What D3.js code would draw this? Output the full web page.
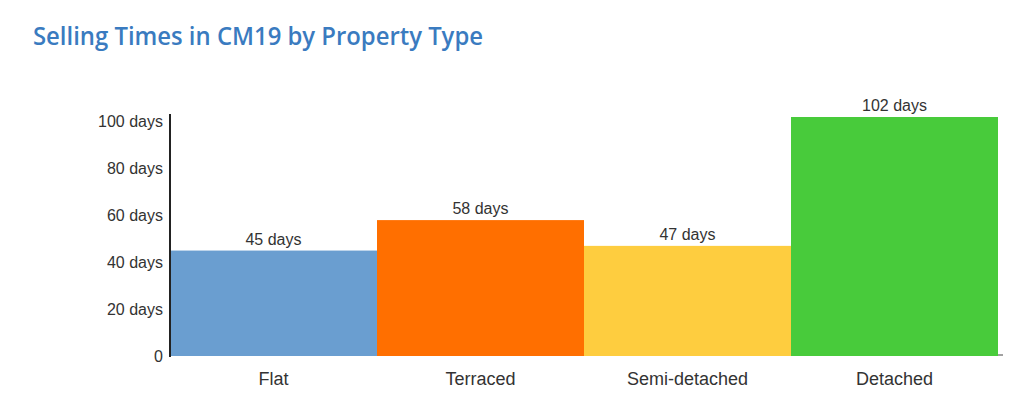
<!DOCTYPE html>
<html>
<head>
<meta charset="utf-8">
<script src="https://cdn.jsdelivr.net/npm/d3@7"></script>
<style>
  body { margin: 0; background: #fff; }
  svg { display: block; }
</style>
</head>
<body>
<div id="chart"></div>
<script>
// data
var categories = ['Flat', 'Terraced', 'Semi-detached', 'Detached'];
var sellingDays = [45, 58, 47, 102];
var barColors = ['#6a9ed0', '#ff6f00', '#fecd3f', '#48cb3b'];
var tickValues = [0, 20, 40, 60, 80, 100];

var width = 1024, height = 410;
var margin = { left: 170, right: 26, top: 117, bottom: 54 };

var svg = d3.select('#chart').append('svg')
    .attr('width', width)
    .attr('height', height);

// title
svg.append('text')
  .attr('x', 33)
  .attr('y', 45)
  .attr('fill', '#3a7bc0')
  .style('font-family', 'Open Sans, sans-serif')
  .style('font-size', '26px')
  .style('font-weight', 600)
  .attr('textLength', 450)
  .attr('lengthAdjust', 'spacingAndGlyphs')
  .text('Selling Times in CM19 by Property Type');

var x = d3.scaleBand()
    .domain(categories)
    .range([margin.left, width - margin.right])
    .padding(0);

var y = d3.scaleLinear()
    .domain([0, d3.max(sellingDays)])
    .range([height - margin.bottom, margin.top]);

var data = categories.map(function(c, i){ return { cat: c, val: sellingDays[i], color: barColors[i] }; });

// bars
svg.selectAll('rect.bar')
  .data(data)
  .enter().append('rect')
  .attr('class', 'bar')
  .attr('x', function(d){ return x(d.cat); })
  .attr('y', function(d){ return y(d.val); })
  .attr('width', x.bandwidth())
  .attr('height', function(d){ return y(0) - y(d.val); })
  .attr('fill', function(d){ return d.color; });

// value labels
svg.selectAll('text.val')
  .data(data)
  .enter().append('text')
  .attr('class', 'val')
  .attr('x', function(d){ return x(d.cat) + x.bandwidth() / 2; })
  .attr('y', function(d){ return y(d.val) - 6; })
  .attr('text-anchor', 'middle')
  .attr('fill', '#333')
  .style('font-family', 'Liberation Sans, Arial, sans-serif')
  .style('font-size', '16px')
  .text(function(d){ return d.val + ' days'; });

// y axis
var yAxis = d3.axisLeft(y)
    .tickValues(tickValues)
    .tickSize(0)
    .tickPadding(7)
    .tickFormat(function(d){ return d === 0 ? '0' : d + ' days'; });

var gy = svg.append('g')
  .attr('transform', 'translate(' + margin.left + ',0)')
  .call(yAxis);
gy.select('.domain').remove();
gy.selectAll('text')
  .attr('fill', '#333')
  .style('font-family', 'Liberation Sans, Arial, sans-serif')
  .style('font-size', '16px');

svg.append('line')
  .attr('x1', margin.left).attr('x2', margin.left)
  .attr('y1', margin.top - 3).attr('y2', y(0) + 1)
  .attr('stroke', '#222')
  .attr('stroke-width', 2);

// x axis
var xAxis = d3.axisBottom(x).tickSize(0).tickPadding(16);
var gx = svg.append('g')
  .attr('transform', 'translate(0,' + y(0) + ')')
  .call(xAxis);
gx.select('.domain').remove();
gx.selectAll('text')
  .attr('fill', '#333')
  .style('font-family', 'Liberation Sans, Arial, sans-serif')
  .style('font-size', '18px');

svg.append('line')
  .attr('x1', width - margin.right).attr('x2', width - margin.right + 5)
  .attr('y1', y(0) - 1).attr('y2', y(0) - 1)
  .attr('stroke', '#444')
  .attr('stroke-width', 1);
</script>
</body>
</html>
